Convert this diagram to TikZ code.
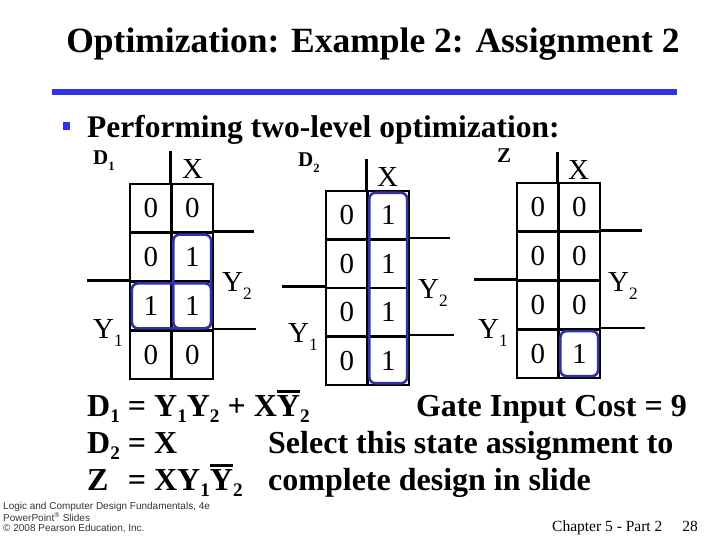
\documentclass[tikz,border=0pt]{standalone}
\usepackage{fontspec}
\setmainfont{Liberation Serif}
\newfontfamily\footfont{Liberation Sans}
\usetikzlibrary{fit}
\definecolor{barblue}{RGB}{51,51,230}
\definecolor{loopblue}{RGB}{50,50,165}
\newcommand{\lowsub}[1]{\raisebox{-0.28em}{\scalebox{0.6}{#1}}}
\newcommand{\eqsub}[1]{\raisebox{-0.2em}{\scalebox{0.6}{#1}}}
\newcommand{\ovl}[1]{\vbox{\hrule height 2.4pt\kern 2.2pt\hbox{#1}}}

\begin{document}
\begin{tikzpicture}[x=1pt, y=-1pt,
    cell/.style={draw, line width=2.6pt, minimum width=41.5pt, minimum height=48.75pt, inner sep=0pt, font=\fontsize{29}{30}\selectfont},
    grid/.style={line width=2.6pt},
    loopbox/.style={draw=loopblue, line width=2.6pt, rounded corners=6pt, inner sep=-3.2pt},
    var/.style={anchor=base west, inner sep=0pt, font=\fontsize{29}{30}\selectfont},
    mapname/.style={anchor=base west, inner sep=0pt, font=\fontsize{21}{22}\selectfont\bfseries},
    eqn/.style={anchor=base west, inner sep=0pt, font=\fontsize{32}{36}\selectfont\bfseries},
  ]
  \useasboundingbox (0,0) rectangle (720,540);

  % Title and rule
  \node[anchor=base, inner sep=0pt, font=\fontsize{35.5}{40}\selectfont\bfseries] (title) at (373,53) {Optimization: Example 2: Assignment 2};
  \fill[barblue] (52,89) rectangle (677,95);
  \fill[barblue] (63,122) rectangle (70,130);
  \node[eqn, font=\fontsize{31.5}{34}\selectfont\bfseries] (lead) at (87,138) {Performing two-level optimization:};

  % K-map for D1
  \foreach \r/\a/\b in {1/0/0, 2/0/1, 3/1/1, 4/0/0} {
    \node[cell] (d1-\r-1) at (150.75, {184+48.75*\r-24.375}) {\a};
    \node[cell] (d1-\r-2) at (192.25, {184+48.75*\r-24.375}) {\b};
  }
  \draw[grid] (d1-1-2.north west) -- ++(0,-32);
  \draw[grid] (d1-2-2.north east) -- ++(40,0);
  \draw[grid] (d1-3-1.north west) -- ++(-42,0);
  \draw[grid] (d1-4-2.north east) -- ++(42,0);
  \node[mapname] (d1-name) at (93,165) {D\lowsub{1}};
  \node[var] (d1-x) at (182,179) {X};
  \node[var] (d1-y2) at (222,291) {Y\lowsub{2}};
  \node[var] (d1-y1) at (93,338) {Y\lowsub{1}};
  \node[loopbox, fit=(d1-2-2)(d1-3-2)] (d1-loop-a) {};
  \node[loopbox, fit=(d1-3-1)(d1-3-2)] (d1-loop-b) {};

  % K-map for D2
  \foreach \r/\a/\b in {1/0/1, 2/0/1, 3/0/1, 4/0/1} {
    \node[cell] (d2-\r-1) at (346.75, {191+48.5*\r-24.25}) {\a};
    \node[cell] (d2-\r-2) at (388.25, {191+48.5*\r-24.25}) {\b};
  }
  \draw[grid] (d2-1-2.north west) -- ++(0,-31);
  \draw[grid] (d2-2-2.north east) -- ++(40,0);
  \draw[grid] (d2-3-1.north west) -- ++(-43,0);
  \draw[grid] (d2-4-2.north east) -- ++(44,0);
  \node[mapname] (d2-name) at (298,167) {D\lowsub{2}};
  \node[var] (d2-x) at (377,187) {X};
  \node[var] (d2-y2) at (418,298) {Y\lowsub{2}};
  \node[var] (d2-y1) at (288,342) {Y\lowsub{1}};
  \node[loopbox, fit=(d2-1-2)(d2-4-2)] (d2-loop) {};

  % K-map for Z
  \foreach \r/\a/\b in {1/0/0, 2/0/0, 3/0/0, 4/0/1} {
    \node[cell] (z-\r-1) at (537.75, {183+48.75*\r-24.375}) {\a};
    \node[cell] (z-\r-2) at (579.25, {183+48.75*\r-24.375}) {\b};
  }
  \draw[grid] (z-1-2.north west) -- ++(0,-30);
  \draw[grid] (z-2-2.north east) -- ++(41,0);
  \draw[grid] (z-3-1.north west) -- ++(-42,0);
  \draw[grid] (z-4-2.north east) -- ++(44,0);
  \node[mapname] (z-name) at (497,163) {Z};
  \node[var] (z-x) at (568,180) {X};
  \node[var] (z-y2) at (608,291) {Y\lowsub{2}};
  \node[var] (z-y1) at (478,338) {Y\lowsub{1}};
  \node[loopbox, fit=(z-4-2)] (z-loop) {};

  % Equations and notes
  \node[eqn] (eq-d1) at (87,416) {D\eqsub{1} = Y\eqsub{1}Y\eqsub{2} + X\ovl{Y}\eqsub{2}};
  \node[eqn, anchor=base east] (cost) at (687,416) {Gate Input Cost = 9};
  \node[eqn] (eq-d2) at (87,453) {D\eqsub{2} = X};
  \node[eqn] (note-a) at (268,453) {Select this state assignment to};
  \node[eqn] (eq-z) at (87,490) {\rlap{Z}\phantom{D\eqsub{2}} = XY\eqsub{1}\ovl{Y}\eqsub{2}};
  \node[eqn] (note-b) at (268,490) {complete design in slide};

  % Footer
  \node[anchor=north west, inner sep=0pt, align=left, text=black!80, font=\footfont\fontsize{10}{10.4}\selectfont] (credit) at (3,502) {Logic and Computer Design Fundamentals, 4e\\PowerPoint\textsuperscript{\textregistered} Slides\\\textcopyright{} 2008 Pearson Education, Inc.};
  \node[anchor=base west, inner sep=0pt, font=\fontsize{15.5}{18}\selectfont] (chapter) at (552,531) {Chapter 5 - Part 2};
  \node[anchor=base east, inner sep=0pt, font=\fontsize{15.5}{18}\selectfont] (page) at (698,531) {28};
\end{tikzpicture}
\end{document}
